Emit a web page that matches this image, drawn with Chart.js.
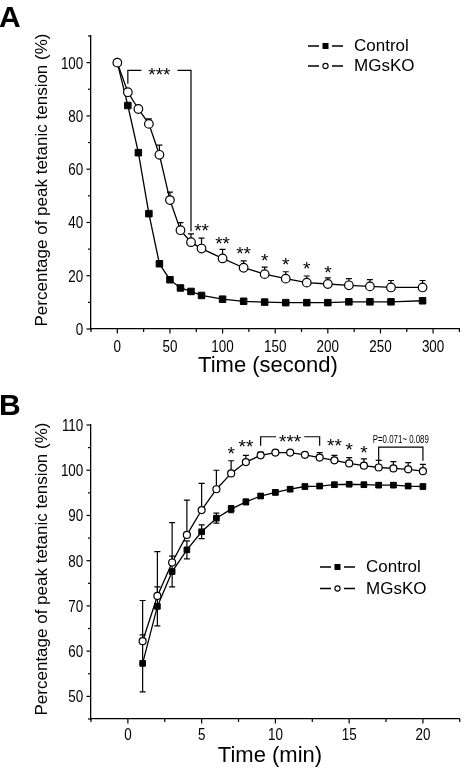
<!DOCTYPE html>
<html>
<head>
<meta charset="utf-8">
<script src="https://cdn.jsdelivr.net/npm/chart.js@4.4.0/dist/chart.umd.min.js"></script>
<style>
  html, body { margin: 0; padding: 0; background: #fff; }
  #wrap { position: relative; width: 465px; height: 768px; }
  canvas { position: absolute; left: 0; }
</style>
</head>
<body>
<div id="wrap">
  <canvas id="chartA" width="465" height="384" style="top:0"></canvas>
  <canvas id="chartB" width="465" height="384" style="top:384px"></canvas>
</div>
<script>
// Panel A - fatigue (seconds)
const timeA = [0, 10, 20, 30, 40, 50, 60, 70, 80, 100, 120, 140, 160, 180, 200, 220, 240, 260, 290];
const controlA = [100, 83.9, 66.2, 43.3, 24.5, 18.5, 15.4, 14.1, 12.6, 11.2, 10.4, 10.1, 9.9, 9.9, 9.9, 10.2, 10.2, 10.2, 10.6];
const mgskoA = [100, 88.9, 82.6, 77.0, 65.4, 48.4, 37.1, 32.6, 30.2, 26.5, 23.0, 20.6, 18.9, 17.4, 16.9, 16.4, 16.0, 15.6, 15.6];
const mgskoErrA = [0, 0, 0.5, 1.9, 3.6, 3.0, 2.8, 3.1, 3.9, 3.4, 2.6, 2.6, 2.6, 2.5, 2.3, 2.5, 2.5, 2.6, 2.6];
const xLabelsA = [0, 50, 100, 150, 200, 250, 300];
const yLabelsA = [0, 20, 40, 60, 80, 100];
const starTimeA = [80, 100, 120, 140, 160, 180, 200];
const starLevelA = [38.6, 33.6, 29.8, 27.5, 25.8, 24.2, 23.0];
const starTextA = ['**', '**', '**', '*', '*', '*', '*'];

// Panel B - recovery (minutes)
const timeB = [1, 2, 3, 4, 5, 6, 7, 8, 9, 10, 11, 12, 13, 14, 15, 16, 17, 18, 19, 20];
const controlB = [57.3, 69.9, 77.6, 82.4, 86.4, 89.4, 91.4, 93.0, 94.3, 95.1, 95.8, 96.4, 96.5, 96.8, 96.9, 96.8, 96.7, 96.7, 96.5, 96.4];
const controlErrB = [6.3, 4.3, 3.4, 2.0, 1.5, 1.1, 0.8, 0.6, 0.5, 0.5, 0.5, 0.5, 0.5, 0.5, 0.5, 0.5, 0.5, 0.5, 0.5, 0.5];
const mgskoB = [62.2, 72.2, 79.6, 85.7, 91.2, 95.8, 99.3, 101.8, 103.3, 103.9, 103.9, 103.4, 102.8, 102.2, 101.5, 101.0, 100.6, 100.4, 100.2, 99.8];
const mgskoErrB = [9.0, 9.8, 8.8, 7.7, 5.9, 4.2, 2.8, 1.5, 0.7, 0.4, 0.4, 0.4, 1.1, 1.1, 1.3, 1.5, 1.6, 1.5, 1.5, 1.5];
const xLabelsB = [0, 5, 10, 15, 20];
const yLabelsB = [50, 60, 70, 80, 90, 100, 110];
const starTimeB = [7, 8, 14, 15, 16];
const starLevelB = [104.6, 106.2, 106.5, 105.6, 104.8];
const starTextB = ['*', '**', '**', '*', '*'];

const bracketsA = [
  { from: 10, to: 70, level: 97.1, leftEnd: 92.1, rightEnd: 36.7, text: '***', inline: true }
];
const bracketsB = [
  { from: 9, to: 13, level: 107.4, leftEnd: 105.4, rightEnd: 105.4, text: '***', inline: true },
  { from: 17, to: 20, level: 105.1, leftEnd: 102.1, rightEnd: 102.1, text: 'P=0.071~ 0.089', inline: false }
];

const SANS = '"Liberation Sans", Arial, sans-serif';
const SQUEEZE = 0.79; // no narrow face installed, so squeeze the regular one

function pairs(xs, ys) {
  return xs.map((x, i) => ({ x: x, y: ys[i] }));
}

function narrowText(ctx, text, x, y, align, size) {
  ctx.save();
  ctx.font = size + 'px ' + SANS;
  ctx.textAlign = align;
  ctx.textBaseline = 'alphabetic';
  ctx.translate(x, y);
  ctx.scale(SQUEEZE, 1);
  ctx.fillText(text, 0, 0);
  ctx.restore();
}

// error bars go under the markers
const errorBars = {
  id: 'errorBars',
  beforeDatasetsDraw(chart) {
    const ctx = chart.ctx, xs = chart.scales.x, ys = chart.scales.y;
    ctx.save();
    ctx.strokeStyle = '#000';
    ctx.lineWidth = 1.2;
    chart.data.datasets.forEach(ds => {
      if (!ds.errors) return;
      ds.data.forEach((p, i) => {
        const e = ds.errors[i];
        if (!e) return;
        const px = xs.getPixelForValue(p.x);
        const py = ys.getPixelForValue(p.y);
        const ends = ds.bothSides ? [p.y + e, p.y - e] : [p.y + e];
        ends.forEach(v => {
          const pe = ys.getPixelForValue(v);
          ctx.beginPath();
          ctx.moveTo(px, py); ctx.lineTo(px, pe);
          ctx.moveTo(px - 3, pe); ctx.lineTo(px + 3, pe);
          ctx.stroke();
        });
      });
    });
    ctx.restore();
  }
};

// outward tick marks (longer where a label sits) and the tick labels
const axisTicks = {
  id: 'axisTicks',
  afterDraw(chart, args, opts) {
    const ctx = chart.ctx, xs = chart.scales.x, ys = chart.scales.y;
    ctx.save();
    ctx.strokeStyle = '#000';
    ctx.fillStyle = '#000';
    ctx.lineWidth = 1.2;
    xs.ticks.forEach(t => {
      const px = xs.getPixelForValue(t.value);
      const major = opts.xLabels.includes(t.value);
      ctx.beginPath(); ctx.moveTo(px, xs.top); ctx.lineTo(px, xs.top + (major ? 4.5 : 3)); ctx.stroke();
      if (major) narrowText(ctx, String(t.value), px, xs.top + opts.xLabelDrop, 'center', 17);
    });
    ys.ticks.forEach(t => {
      const py = ys.getPixelForValue(t.value);
      const major = opts.yLabels.includes(t.value);
      ctx.beginPath(); ctx.moveTo(ys.right, py); ctx.lineTo(ys.right - (major ? 4.5 : 3), py); ctx.stroke();
      if (major) narrowText(ctx, String(t.value), ys.right - 7.7, py + 6, 'right', 17);
    });
    ctx.restore();
  }
};

function starBaseline(py, size) {
  return py + size * 0.57;
}

// titles, legend, panel letter, significance marks
const panelDecor = {
  id: 'panelDecor',
  afterDraw(chart, args, o) {
    const ctx = chart.ctx, xs = chart.scales.x, ys = chart.scales.y;
    ctx.save();
    ctx.fillStyle = '#000';
    ctx.strokeStyle = '#000';

    ctx.font = 'bold 30px ' + SANS;
    ctx.textAlign = 'left';
    ctx.textBaseline = 'alphabetic';
    ctx.fillText(o.letter, -1, o.letterY);

    ctx.font = '22px ' + SANS;
    ctx.textAlign = 'center';
    ctx.fillText(o.xTitle, o.xTitleX, o.xTitleY);

    ctx.save();
    ctx.font = '17px ' + SANS;
    ctx.translate(o.yTitleX, o.yTitleY);
    ctx.rotate(-Math.PI / 2);
    ctx.fillText('Percentage of peak tetanic tension (%)', 0, 0);
    ctx.restore();

    // legend
    ctx.lineWidth = 1.3;
    chart.data.datasets.forEach((ds, i) => {
      const x0 = o.legendX, y = o.legendY + i * o.legendGap;
      ctx.beginPath();
      ctx.moveTo(x0, y); ctx.lineTo(x0 + 11, y);
      ctx.moveTo(x0 + 24, y); ctx.lineTo(x0 + 35, y);
      ctx.stroke();
      if (ds.pointStyle === 'rect') {
        ctx.fillRect(x0 + 14.5, y - 3, 6, 6);
      } else {
        ctx.beginPath();
        ctx.arc(x0 + 17.5, y, 2.6, 0, Math.PI * 2);
        ctx.fillStyle = '#fff'; ctx.fill();
        ctx.lineWidth = 1.1; ctx.stroke();
        ctx.fillStyle = '#000'; ctx.lineWidth = 1.3;
      }
      ctx.font = '17px ' + SANS;
      ctx.textAlign = 'left';
      ctx.textBaseline = 'middle';
      ctx.fillText(ds.label, x0 + 46, y + 0.5);
    });

    // stars
    ctx.textAlign = 'center';
    ctx.textBaseline = 'alphabetic';
    ctx.font = '19px ' + SANS;
    o.stars.time.forEach((t, i) => {
      const px = xs.getPixelForValue(t), py = ys.getPixelForValue(o.stars.level[i]);
      ctx.fillText(o.stars.text[i], px, starBaseline(py, 19));
    });

    // brackets
    ctx.lineWidth = 1.2;
    o.brackets.forEach(b => {
      const x1 = xs.getPixelForValue(b.from), x2 = xs.getPixelForValue(b.to);
      const yl = ys.getPixelForValue(b.level);
      const xm = (x1 + x2) / 2;
      ctx.beginPath();
      ctx.moveTo(x1, ys.getPixelForValue(b.leftEnd)); ctx.lineTo(x1, yl);
      if (b.inline) {
        ctx.font = '19px ' + SANS;
        const w = ctx.measureText(b.text).width / 2 + o.gap;
        ctx.lineTo(xm - w, yl);
        ctx.moveTo(xm + w, yl);
      }
      ctx.lineTo(x2, yl); ctx.lineTo(x2, ys.getPixelForValue(b.rightEnd));
      ctx.stroke();
      if (b.inline) {
        ctx.font = '19px ' + SANS;
        ctx.fillText(b.text, xm, starBaseline(yl, 19));
      } else {
        narrowText(ctx, b.text, xm, yl - 4.5, 'center', 10);
      }
    });
    ctx.restore();
  }
};

function makeChart(id, p) {
  return new Chart(document.getElementById(id), {
    type: 'line',
    data: {
      datasets: [
        {
          label: 'Control',
          data: pairs(p.time, p.control),
          errors: p.controlErr,
          bothSides: true,
          order: 1,
          borderColor: '#000',
          borderWidth: 1.3,
          pointStyle: 'rect',
          pointRadius: p.rectR,
          pointBackgroundColor: '#000',
          pointBorderColor: '#000',
          pointBorderWidth: 1,
          tension: 0
        },
        {
          label: 'MGsKO',
          data: pairs(p.time, p.mgsko),
          errors: p.mgskoErr,
          bothSides: false,
          order: 0,
          borderColor: '#000',
          borderWidth: 1.3,
          pointStyle: 'circle',
          pointRadius: p.circR,
          pointBackgroundColor: '#fff',
          pointBorderColor: '#000',
          pointBorderWidth: 1.2,
          tension: 0
        }
      ]
    },
    options: {
      responsive: false,
      animation: false,
      events: [],
      layout: { padding: { top: p.top, right: 2, left: 0, bottom: 0 } },
      plugins: {
        legend: { display: false },
        tooltip: { enabled: false },
        axisTicks: { xLabels: p.xLabels, yLabels: p.yLabels, xLabelDrop: p.xLabelDrop },
        panelDecor: p.decor
      },
      scales: {
        x: {
          type: 'linear',
          min: p.xMin, max: p.xMax,
          afterFit: s => { s.height = p.xHeight; },
          grid: { display: false },
          border: { color: '#000', width: 1.3 },
          ticks: { stepSize: p.xStep, autoSkip: false, display: false }
        },
        y: {
          type: 'linear',
          min: p.yMin, max: p.yMax,
          afterFit: s => { s.width = 91; },
          grid: { display: false },
          border: { color: '#000', width: 1.3 },
          ticks: { stepSize: p.yStep, autoSkip: false, display: false }
        }
      }
    },
    plugins: [errorBars, axisTicks, panelDecor]
  });
}

makeChart('chartA', {
  time: timeA, control: controlA, controlErr: null, mgsko: mgskoA, mgskoErr: mgskoErrA,
  xMin: -25, xMax: 325, xStep: 25, yMin: 0, yMax: 110, yStep: 10,
  xLabels: xLabelsA, yLabels: yLabelsA, xLabelDrop: 22.7,
  top: 36, xHeight: 55, rectR: 4.6, circR: 4.3,
  decor: {
    letter: 'A', letterY: 27,
    xTitle: 'Time (second)', xTitleX: 268, xTitleY: 372,
    yTitleX: 47, yTitleY: 180,
    legendX: 308, legendY: 46, legendGap: 20,
    stars: { time: starTimeA, level: starLevelA, text: starTextA },
    brackets: bracketsA, gap: 7
  }
});

makeChart('chartB', {
  time: timeB, control: controlB, controlErr: controlErrB, mgsko: mgskoB, mgskoErr: mgskoErrB,
  xMin: -2.5, xMax: 22.5, xStep: 2.5, yMin: 45, yMax: 110, yStep: 5,
  xLabels: xLabelsB, yLabels: yLabelsB, xLabelDrop: 21,
  top: 41, xHeight: 49, rectR: 4, circR: 3.5,
  decor: {
    letter: 'B', letterY: 31,
    xTitle: 'Time (min)', xTitleX: 270, xTitleY: 378,
    yTitleX: 47, yTitleY: 185,
    legendX: 320, legendY: 183, legendGap: 21.5,
    stars: { time: starTimeB, level: starLevelB, text: starTextB },
    brackets: bracketsB, gap: 3
  }
});
</script>
</body>
</html>
